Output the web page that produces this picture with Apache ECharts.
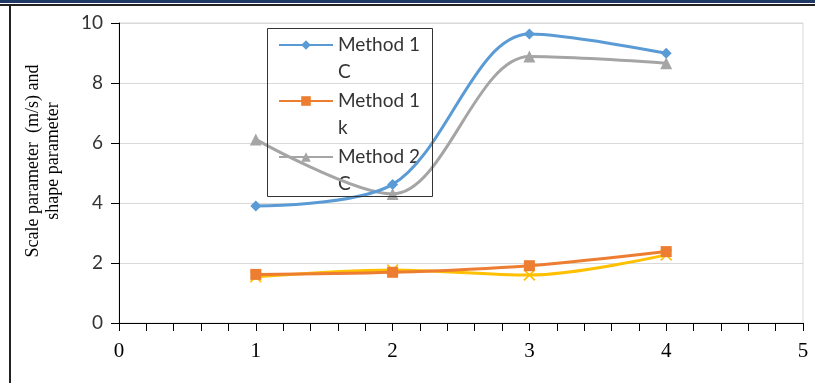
<!DOCTYPE html>
<html>
<head>
<meta charset="utf-8">
<style>
html,body{margin:0;padding:0;background:#fff;}
#band{position:absolute;left:0;top:0;width:815px;height:3px;background:#1f3864;}
#topline{position:absolute;left:0;top:4px;width:815px;height:2px;background:#222;}
#leftline{position:absolute;left:9px;top:4px;width:2px;height:379px;background:#222;}
#chart{position:absolute;left:0;top:0;width:815px;height:383px;}
</style>
<script src="https://cdn.jsdelivr.net/npm/echarts@6/dist/echarts.min.js"></script>
</head>
<body>
<div id="chart"></div>
<div id="band"></div>
<div id="topline"></div>
<div id="leftline"></div>
<script>
const xValues = [1, 2, 3, 4];
const seriesNames = ['Method 1 C', 'Method 1 k', 'Method 2 C', 'Method 2 k'];
const method1C = [3.9, 4.62, 9.63, 8.99];
const method1k = [1.62, 1.69, 1.91, 2.38];
const method2C = [6.12, 4.3, 8.88, 8.66];
const method2k = [1.54, 1.77, 1.6, 2.27];
const legendNames = ['Method 1 C', 'Method 1 k', 'Method 2 C'];
const yAxisTitle = 'Scale parameter  (m/s) and\nshape parameter';

const colors = ['#5b9bd5', '#ed7d31', '#a5a5a5', '#ffc000'];
const symbols = ['diamond', 'rect', 'triangle', 'path://M0,1 L1,0 L10,9 L9,10 Z M9,0 L10,1 L1,10 L0,9 Z'];
const symbolSizes = [11, 11, 12, 12];
const allData = [method1C, method1k, method2C, method2k];

const chart = echarts.init(document.getElementById('chart'), null, {renderer: 'canvas'});

const series = allData.map((vals, i) => ({
  name: seriesNames[i],
  type: 'line',
  smooth: 0.33,
  data: xValues.map((x, j) => [x, vals[j]]),
  symbol: symbols[i],
  symbolSize: symbolSizes[i],
  showAllSymbol: true,
  lineStyle: {color: colors[i], width: 3},
  itemStyle: {color: colors[i], borderWidth: 0},
  z: 10 - i
}));

chart.setOption({
  animation: false,
  grid: {left: 119, right: 12, top: 23, bottom: 60, show: true, borderColor: '#d9d9d9', borderWidth: 1, backgroundColor: 'transparent'},
  legend: {
    data: legendNames,
    orient: 'vertical',
    left: 278,
    top: 4.5,
    padding: 0,
    itemGap: -25,
    itemWidth: 54,
    itemHeight: 12,
    formatter: function (name) {
      const parts = name.split(' ');
      return '{e| }\n{a|' + parts[0] + ' ' + parts[1] + '}\n{a|' + parts[2] + '}';
    },
    textStyle: {
      fontSize: 19,
      lineHeight: 27,
      fontFamily: 'Lato',
      rich: {
        e: {fontSize: 19, lineHeight: 27, color: 'rgba(0,0,0,0)'},
        a: {fontSize: 19, lineHeight: 27, fontFamily: 'Lato', color: '#333'}
      }
    }
  },
  graphic: [{
    type: 'rect',
    shape: {x: 267.5, y: 28.5, width: 165, height: 168},
    style: {fill: 'none', stroke: '#333', lineWidth: 1},
    z: 100,
    silent: true
  }],
  xAxis: {
    type: 'value',
    min: 0, max: 5, interval: 1,
    axisLine: {show: true, onZero: false, lineStyle: {color: '#000', width: 1}},
    axisTick: {show: true, inside: false, length: 8, lineStyle: {color: '#000'}},
    minorTick: {show: true, splitNumber: 5, length: 8, lineStyle: {color: '#000'}},
    splitLine: {show: false},
    axisLabel: {fontFamily: 'Liberation Serif', fontSize: 21, color: '#000', margin: 18}
  },
  yAxis: {
    type: 'value',
    min: 0, max: 10, interval: 2,
    axisLine: {show: true, lineStyle: {color: '#000', width: 1}},
    axisTick: {show: true, inside: false, length: 8, lineStyle: {color: '#000'}},
    splitLine: {show: true, lineStyle: {color: '#d9d9d9', width: 1}},
    axisLabel: {fontFamily: 'Lato', fontSize: 19, color: '#333', margin: 16},
    name: yAxisTitle,
    nameLocation: 'middle',
    nameGap: 56,
    nameTextStyle: {fontFamily: 'Liberation Serif', fontSize: 18, lineHeight: 20, color: '#000', padding: [0, 0, 0, 24]}
  },
  series: series
});
</script>
</body>
</html>
